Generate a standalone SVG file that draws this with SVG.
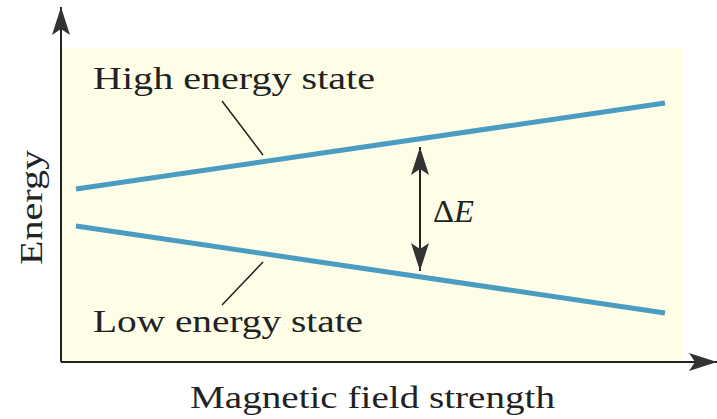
<svg xmlns="http://www.w3.org/2000/svg" width="717" height="419" viewBox="0 0 717 419">
<style>
.t{font-family:"Liberation Serif","DejaVu Serif",serif;fill:#222;font-size:32px}
.lvl{stroke:#4a9cc0;stroke-width:5;stroke-linecap:butt;fill:none}
.ax{stroke:#222;stroke-width:2;fill:none}
.ld{stroke:#222;stroke-width:1.5;fill:none}
</style>
<defs>
<marker id="ah" viewBox="0 0 28 18" refX="28" refY="9" markerWidth="28" markerHeight="18" markerUnits="userSpaceOnUse" orient="auto-start-reverse">
<path d="M0,0 L28,9 L0,18 L6,9 Z" fill="#333"/>
</marker>
</defs>
<rect width="717" height="419" fill="#fff"/>
<rect x="62" y="48" width="622" height="314" fill="#fdfde8"/>
<g id="axes" class="connectors">
<line class="ax" x1="61" y1="362" x2="61" y2="7" marker-end="url(#ah)"/>
<line class="ax" x1="61" y1="362" x2="717" y2="362" marker-end="url(#ah)"/>
</g>
<g id="high-state">
<line class="lvl" x1="76" y1="189" x2="665" y2="103"/>
<text class="t" x="93" y="89" textLength="282" lengthAdjust="spacingAndGlyphs">High energy state</text>
<line class="ld" x1="222" y1="101" x2="263" y2="155"/>
</g>
<g id="low-state">
<line class="lvl" x1="76" y1="226" x2="665" y2="313"/>
<text class="t" x="93" y="332" textLength="270" lengthAdjust="spacingAndGlyphs">Low energy state</text>
<line class="ld" x1="263" y1="262" x2="222" y2="305"/>
</g>
<g id="delta-e">
<line class="ax" x1="420" y1="147" x2="420" y2="271" marker-start="url(#ah)" marker-end="url(#ah)"/>
<text class="t" x="433" y="222" font-size="34" textLength="41" lengthAdjust="spacingAndGlyphs">Δ<tspan font-style="italic">E</tspan></text>
</g>
<g id="labels">
<text class="t" x="190" y="408" font-size="34" textLength="365" lengthAdjust="spacingAndGlyphs">Magnetic field strength</text>
<text class="t" transform="translate(42,265) rotate(-90)" font-size="34" textLength="115" lengthAdjust="spacingAndGlyphs">Energy</text>
</g>
</svg>
